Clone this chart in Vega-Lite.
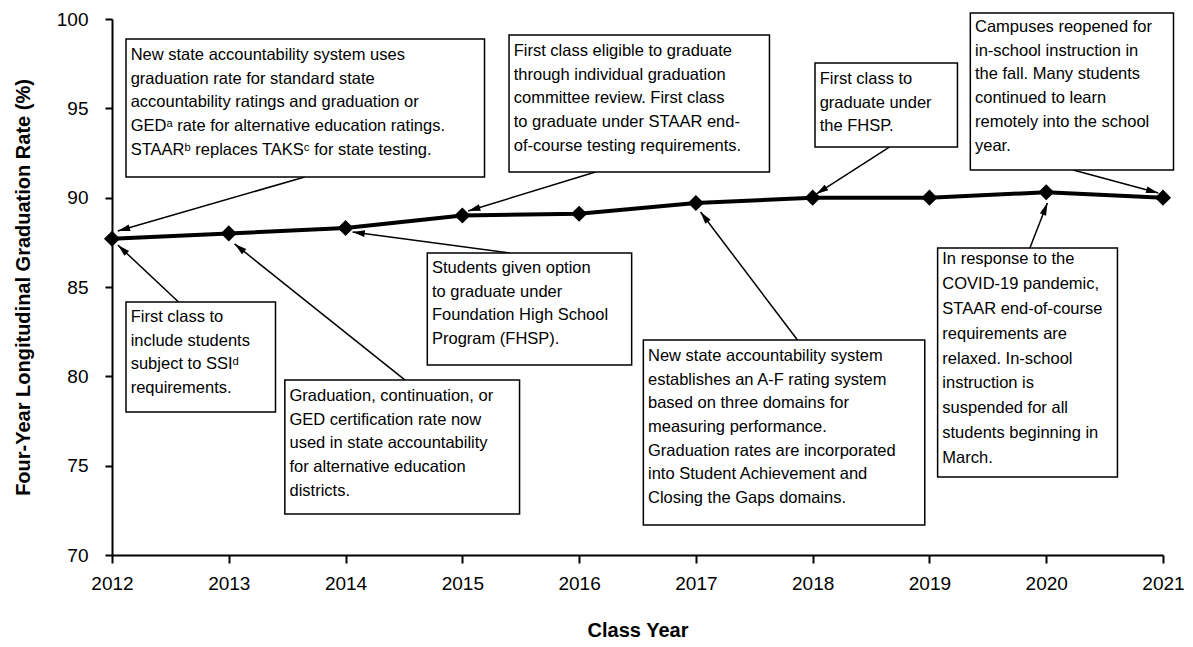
{
  "$schema": "https://vega.github.io/schema/vega-lite/v6.json",
  "autosize": {"type": "none"},
  "padding": {"left": 112, "top": 19, "right": 30, "bottom": 92},
  "width": 1051,
  "height": 536,
  "background": "white",
  "config": {
    "view": {"stroke": null},
    "font": "Liberation Sans",
    "axis": {
      "domainColor": "black", "domainWidth": 2, "tickColor": "black", "tickWidth": 2,
      "tickSize": 7, "grid": false, "labelFont": "Liberation Sans", "labelFontSize": 19,
      "labelColor": "black", "titleFont": "Liberation Sans", "titleFontSize": 20,
      "titleFontWeight": "bold", "titleColor": "black"
    }
  },
  "datasets": {
    "grad": [
      {"year": 2012, "rate": 87.7},
      {"year": 2013, "rate": 88.0},
      {"year": 2014, "rate": 88.3},
      {"year": 2015, "rate": 89.0},
      {"year": 2016, "rate": 89.1},
      {"year": 2017, "rate": 89.7},
      {"year": 2018, "rate": 90.0},
      {"year": 2019, "rate": 90.0},
      {"year": 2020, "rate": 90.3},
      {"year": 2021, "rate": 90.0}
    ],
    "notes": [
      {"id": 1, "bx1": 2012.12, "bx2": 2015.19, "by1": 98.88, "by2": 91.16, "tx": 2012.16, "ty": 98.43,
       "ax1": 2013.65, "ay1": 91.16, "ax2": 2012.05, "ay2": 88.13,
       "lines": ["New state accountability system uses", "graduation rate for standard state", "accountability ratings and graduation or", "GEDᵃ rate for alternative education ratings.", "STAARᵇ replaces TAKSᶜ for state testing."]},
      {"id": 2, "bx1": 2015.40, "bx2": 2017.63, "by1": 99.10, "by2": 91.44, "tx": 2015.44, "ty": 98.66,
       "ax1": 2016.14, "ay1": 91.44, "ax2": 2015.05, "ay2": 89.25,
       "lines": ["First class eligible to graduate", "through individual graduation", "committee review. First class", "to graduate under STAAR end-", "of-course testing requirements."]},
      {"id": 3, "bx1": 2018.02, "bx2": 2019.24, "by1": 97.54, "by2": 92.84, "tx": 2018.06, "ty": 97.09,
       "ax1": 2018.66, "ay1": 92.84, "ax2": 2018.03, "ay2": 90.2,
       "lines": ["First class to", "graduate under", "the FHSP."]},
      {"id": 4, "bx1": 2019.35, "bx2": 2021.09, "by1": 100.34, "by2": 91.55, "tx": 2019.39, "ty": 100.0,
       "ax1": 2020.23, "ay1": 91.55, "ax2": 2020.96, "ay2": 90.26,
       "lines": ["Campuses reopened for", "in-school instruction in", "the fall. Many students", "continued to learn", "remotely into the school", "year."]},
      {"id": 5, "bx1": 2012.12, "bx2": 2013.40, "by1": 84.16, "by2": 78.0, "tx": 2012.16, "ty": 83.77,
       "ax1": 2012.57, "ay1": 84.16, "ax2": 2012.05, "ay2": 87.35,
       "lines": ["First class to", "include students", "subject to SSIᵈ", "requirements."]},
      {"id": 6, "bx1": 2013.48, "bx2": 2015.49, "by1": 79.79, "by2": 72.30, "tx": 2013.52, "ty": 79.35,
       "ax1": 2014.51, "ay1": 79.79, "ax2": 2013.05, "ay2": 87.41,
       "lines": ["Graduation, continuation, or", "GED certification rate now", "used in state accountability", "for alternative education", "districts."]},
      {"id": 7, "bx1": 2014.70, "bx2": 2016.45, "by1": 86.90, "by2": 80.63, "tx": 2014.74, "ty": 86.51,
       "ax1": 2015.41, "ay1": 86.90, "ax2": 2014.06, "ay2": 88.08,
       "lines": ["Students given option", "to graduate under", "Foundation High School", "Program (FHSP)."]},
      {"id": 8, "bx1": 2016.55, "bx2": 2018.96, "by1": 82.03, "by2": 71.68, "tx": 2016.59, "ty": 81.59,
       "ax1": 2017.87, "ay1": 82.03, "ax2": 2017.04, "ay2": 89.20,
       "lines": ["New state accountability system", "establishes an A-F rating system", "based on three domains for", "measuring performance.", "Graduation rates are incorporated", "into Student Achievement and", "Closing the Gaps domains."]},
      {"id": 9, "bx1": 2019.07, "bx2": 2020.61, "by1": 87.18, "by2": 74.37, "tx": 2019.11, "ty": 87.02,
       "ax1": 2019.86, "ay1": 87.18, "ax2": 2020.01, "ay2": 89.70,
       "lines": ["In response to the", "COVID-19 pandemic,", "STAAR end-of-course", "requirements are", "relaxed. In-school", "instruction is", "suspended for all", "students beginning in", "March."]}
    ]
  },
  "layer": [
    {
      "data": {"name": "grad"},
      "mark": {"type": "line", "color": "black", "strokeWidth": 4},
      "encoding": {
        "x": {"field": "year", "type": "quantitative",
              "scale": {"domain": [2012, 2021], "nice": false, "zero": false},
              "axis": {"values": [2012, 2013, 2014, 2015, 2016, 2017, 2018, 2019, 2020, 2021], "format": "d",
                       "title": "Class Year", "labelPadding": 11, "tickSize": 8, "labelFlush": false,
                       "titleY": 75, "titleBaseline": "middle"}},
        "y": {"field": "rate", "type": "quantitative",
              "scale": {"domain": [70, 100], "nice": false, "zero": false},
              "axis": {"values": [70, 75, 80, 85, 90, 95, 100], "title": "Four-Year Longitudinal Graduation Rate (%)",
                       "labelPadding": 17, "titleX": -89, "titleY": 268, "titleAngle": -90,
                       "titleAlign": "center", "titleBaseline": "middle"}}
      }
    },
    {
      "data": {"name": "grad"},
      "mark": {"type": "point", "shape": "diamond", "filled": true, "color": "black", "size": 260, "opacity": 1},
      "encoding": {
        "x": {"field": "year", "type": "quantitative"},
        "y": {"field": "rate", "type": "quantitative"}
      }
    },
    {
      "data": {"name": "notes"},
      "mark": {"type": "rule", "color": "black", "strokeWidth": 1.5},
      "encoding": {
        "x": {"field": "ax1", "type": "quantitative"},
        "y": {"field": "ay1", "type": "quantitative"},
        "x2": {"field": "ax2"},
        "y2": {"field": "ay2"}
      }
    },
    {
      "data": {"name": "notes"},
      "transform": [
        {"calculate": "atan2((datum.ax2 - datum.ax1) * 116.78, (datum.ay2 - datum.ay1) * 17.867) * 180 / PI", "as": "ang"}
      ],
      "mark": {"type": "point", "shape": "M0,0L0.55,2L-0.55,2Z", "filled": true, "color": "black", "size": 150, "opacity": 1},
      "encoding": {
        "x": {"field": "ax2", "type": "quantitative"},
        "y": {"field": "ay2", "type": "quantitative"},
        "angle": {"field": "ang", "type": "quantitative", "scale": null}
      }
    },
    {
      "data": {"name": "notes"},
      "mark": {"type": "rect", "fill": "white", "stroke": "black", "strokeWidth": 1.5},
      "encoding": {
        "x": {"field": "bx1", "type": "quantitative"},
        "x2": {"field": "bx2"},
        "y": {"field": "by1", "type": "quantitative"},
        "y2": {"field": "by2"}
      }
    },
    {
      "data": {"name": "notes"},
      "transform": [{"filter": "datum.id != 9"}],
      "mark": {"type": "text", "align": "left", "baseline": "top", "font": "Liberation Sans", "fontSize": 16.5, "lineHeight": 23.7, "color": "black"},
      "encoding": {
        "x": {"field": "tx", "type": "quantitative"},
        "y": {"field": "ty", "type": "quantitative"},
        "text": {"field": "lines"}
      }
    },
    {
      "data": {"name": "notes"},
      "transform": [{"filter": "datum.id == 9"}],
      "mark": {"type": "text", "align": "left", "baseline": "top", "font": "Liberation Sans", "fontSize": 16.5, "lineHeight": 24.9, "color": "black"},
      "encoding": {
        "x": {"field": "tx", "type": "quantitative"},
        "y": {"field": "ty", "type": "quantitative"},
        "text": {"field": "lines"}
      }
    }
  ]
}
